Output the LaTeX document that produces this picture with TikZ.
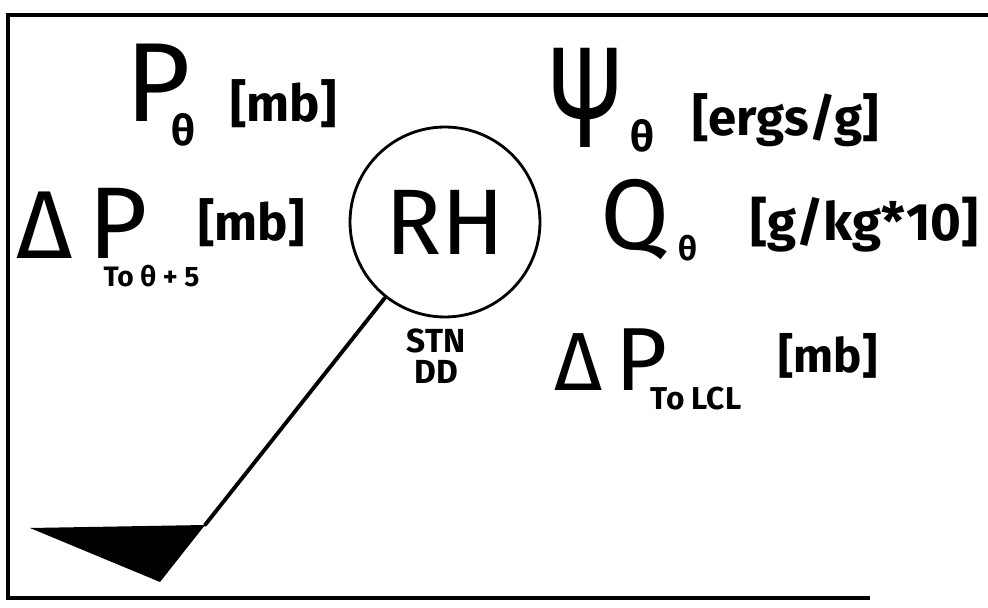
\documentclass[tikz,border=0pt]{standalone}
\usepackage{fontspec}
\setmainfont{Fira Sans}
\usetikzlibrary{positioning}

% indice abaisse, colle au symbole
\newcommand\lowered[3]{\kern#1\raisebox{-#2}{#3}}

\begin{document}
\begin{tikzpicture}[
    x=0.02cm, y=-0.02cm,
    symbol/.style={
        anchor=base west,
        inner sep=0pt
    },
    subscript/.style={
        anchor=base west,
        inner sep=0pt,
        font=\fontsize{24}{24}\selectfont\bfseries
    },
    unit/.style={
        anchor=base west,
        inner sep=0pt,
        font=\fontsize{29}{29}\selectfont\bfseries
    },
    station/.style={
        circle,
        draw=black,
        line width=1.6pt,
        minimum size=3.8cm,
        inner sep=0pt,
        font=\fontsize{53}{53}\selectfont
    },
    staff/.style={
        line width=2.2pt,
        line cap=round
    },
    frame/.style={
        line width=2.6pt
    }
]

\useasboundingbox (0,0) rectangle (988,608);

%% --- Cadre ---
\coordinate (FR) at (988,15);
\coordinate (FTL) at (8,15);
\coordinate (FBL) at (8,598);
\coordinate (FBR) at (870,598);
\draw[frame] (FR) -- (FTL) -- (FBL) -- (FBR);

%% --- Pression ---
\node[symbol, font=\fontsize{64}{64}\selectfont] (P) at (125,122)
    {P\lowered{-11pt}{13.6pt}{\fontsize{24}{24}\selectfont\bfseries θ}};
\node[unit] (Punit) at (230,122) {[mb]};

%% --- Psi ---
\node[symbol, font=\fontsize{82}{82}\selectfont] (Psi) at (550,148) {\scalebox{0.7}[1]{Ψ}};
\node[subscript] (Psisub) at (630,152) {θ};
\node[unit] (Psiunit) at (692,136) {[ergs/g]};

%% --- Delta P vers theta+5 ---
\node[symbol, font=\fontsize{55}{55}\selectfont] (DA) at (16,258) {Δ};
\node[symbol, font=\fontsize{58}{58}\selectfont] (PA) at (88,258)
    {P\lowered{-25pt}{16pt}{\fontsize{16}{16}\selectfont\bfseries To θ + 5}};
\node[unit] (PAunit) at (198,240) {[mb]};

%% --- Station ---
\node[station] (RH) at (445,222) {RH};
\node[inner sep=0pt, align=center, anchor=north,
      font=\fontsize{19}{18}\selectfont\bfseries] (STN) at (436,328) {STN\\DD};

%% --- Humidite ---
\node[symbol, font=\fontsize{57}{57}\selectfont] (Q) at (600,250) {Q};
\node[subscript, font=\fontsize{19}{19}\selectfont\bfseries] (Qsub) at (678,260) {θ};
\node[unit, font=\fontsize{30}{30}\selectfont\bfseries] (Qunit) at (750,240) {[g/kg*10]};

%% --- Delta P vers LCL ---
\node[symbol, font=\fontsize{47}{47}\selectfont] (DB) at (554,390) {Δ};
\node[symbol, font=\fontsize{51}{51}\selectfont] (PB) at (615,390)
    {P\lowered{-9.5pt}{11.3pt}{\fontsize{18}{18}\selectfont\bfseries To LCL}};
\node[unit, font=\fontsize{27}{27}\selectfont\bfseries] (PBunit) at (778,372) {[mb]};

%% --- Barbule ---
\coordinate (barb) at (205,525);
\coordinate (tipL) at (30,528);
\coordinate (tipB) at (160,582);
\draw[staff] (RH) -- (barb);
\fill[line join=round] (tipL) -- (barb) -- (tipB) -- cycle;

\end{tikzpicture}
\end{document}
